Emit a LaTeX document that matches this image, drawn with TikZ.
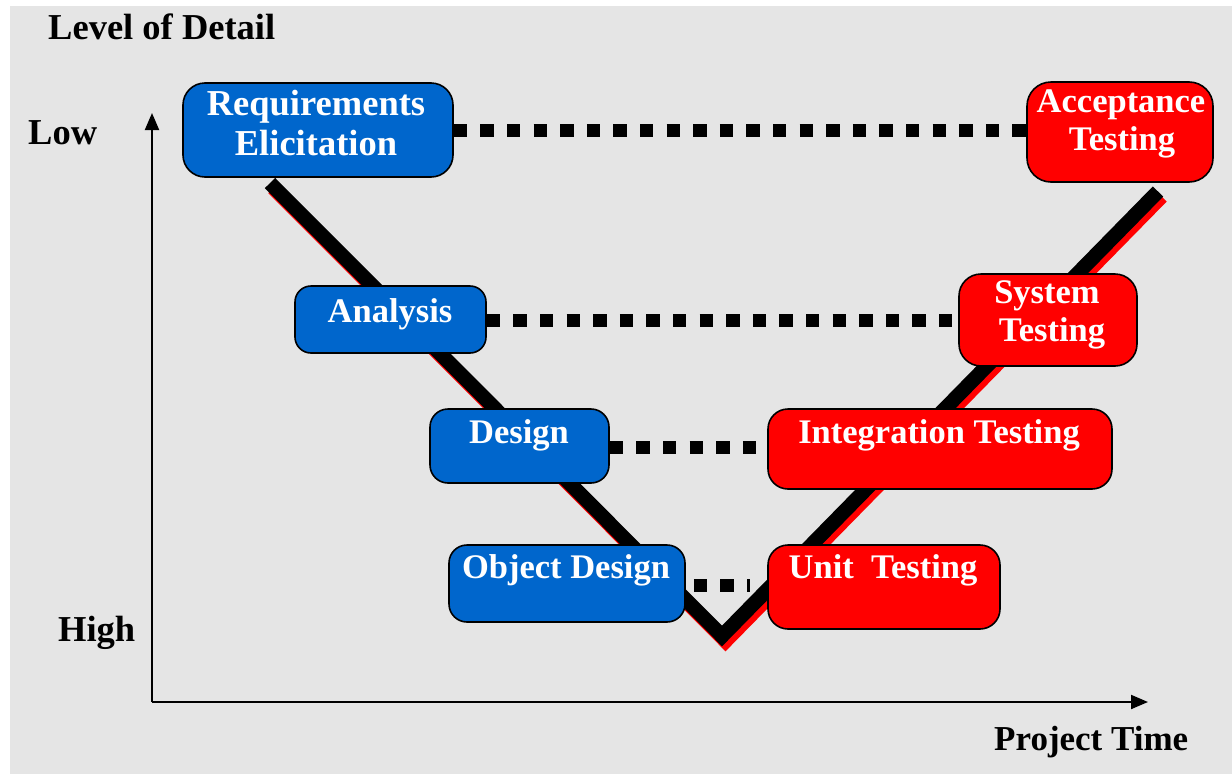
\documentclass[tikz,border=0pt]{standalone}
\usepackage{fontspec}
\setmainfont{Liberation Serif}
\usetikzlibrary{arrows.meta}
\definecolor{bgc}{HTML}{E5E5E5}
\definecolor{boxblue}{HTML}{0066CC}
\definecolor{boxred}{HTML}{FF0000}
\begin{document}
\begin{tikzpicture}[x=1pt,y=-1pt,
  stage/.style={draw=black, line width=1.6pt, rounded corners=#1, inner sep=0pt},
  devbox/.style={stage=#1, fill=boxblue},
  testbox/.style={stage=#1, fill=boxred},
  boxtext/.style={text=white, font=\bfseries\fontsize{34.5}{40}\selectfont, anchor=base, inner sep=0pt},
  axislabel/.style={text=black, font=\bfseries\fontsize{36.5}{40}\selectfont, anchor=base west, inner sep=0pt},
  link/.style={line width=13pt, dash pattern=on 13.3pt off 13.3pt},
  vline/.style={line width=14.5pt, line join=miter},
  axis/.style={line width=2pt, -{Triangle[length=17pt,width=14pt]}}]

% canvas
\useasboundingbox (0,0) rectangle (1232,774);
\fill[bgc] (10,6) rectangle (1232,774);

% axes
\coordinate (orig) at (152,702);
\coordinate (ytip) at (152,113);
\coordinate (xtip) at (1148,702);
\draw[axis] (orig) -- (ytip);
\draw[axis] (orig) -- (xtip);

\node[axislabel] (lod)  at (48,39)   {Level of Detail};
\node[axislabel] (low)  at (28,144)  {Low};
\node[axislabel] (high) at (58,641)  {High};
\node[axislabel, font=\bfseries\fontsize{35}{40}\selectfont] (ptime) at (994,750) {Project Time};

% the V: red shadow under the black stroke
\coordinate (vl) at (270,183);
\coordinate (vb) at (722,636);
\coordinate (vr) at (1158,191.5);
\draw[vline, boxred] ([shift={(3.5,5)}]vl) -- ([shift={(3.5,5)}]vb) -- ([shift={(3.5,5)}]vr);
\draw[vline, black] (vl) -- (vb) -- (vr);

% development stages
\node[devbox=22pt, minimum width=270pt, minimum height=94pt] (req) at (318,130) {};
\node[devbox=16pt, minimum width=191pt, minimum height=67pt] (ana) at (390.5,319.5) {};
\node[devbox=18pt, minimum width=179pt, minimum height=74pt] (des) at (519.5,446) {};
\node[devbox=18pt, minimum width=236pt, minimum height=77pt] (obj) at (567,583.5) {};

% testing stages
\node[testbox=24pt, minimum width=186pt, minimum height=100pt] (acc) at (1120,132) {};
\node[testbox=22pt, minimum width=178pt, minimum height=92pt] (sys) at (1048,320) {};
\node[testbox=20pt, minimum width=344pt, minimum height=80pt] (int) at (940,449) {};
\node[testbox=20pt, minimum width=232pt, minimum height=84pt] (unit) at (884,587) {};

% texts
\node[boxtext, font=\bfseries\fontsize{36.5}{40}\selectfont] (req1) at (316,115) {Requirements};
\node[boxtext, font=\bfseries\fontsize{36.5}{40}\selectfont] (req2) at (316,155) {Elicitation};
\node[boxtext] (ana1) at (390,322) {Analysis};
\node[boxtext] (des1) at (519,443) {Design};
\node[boxtext] (obj1) at (566,578) {Object Design};
\node[boxtext] (acc1) at (1121,112) {Acceptance};
\node[boxtext] (acc2) at (1122,150) {Testing};
\node[boxtext] (sys1) at (1047,303) {System};
\node[boxtext] (sys2) at (1052,341) {Testing};
\node[boxtext] (int1) at (939,443) {Integration Testing};
\node[boxtext] (unit1) at (883,578) {Unit\ \ Testing};

% level links
\draw[link] (req.east |- 0,130) -- (acc.west |- 0,130);
\draw[link] (ana.east |- 0,320) -- (sys.west |- 0,320);
\draw[link] (des.east |- 0,447) -- (int.west |- 0,447);
\coordinate (objend) at (750,585);
\draw[link, dash phase=18.6pt] (obj.east |- objend) -- (objend);
\end{tikzpicture}
\end{document}
